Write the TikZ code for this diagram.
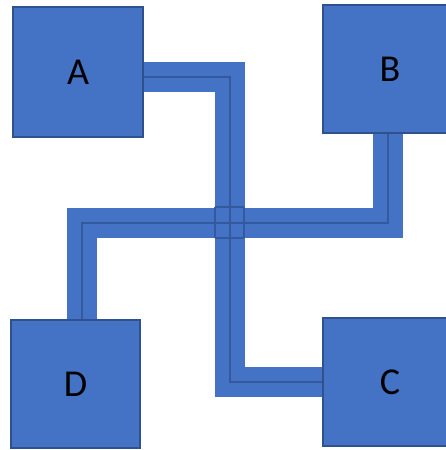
\documentclass[tikz,border=0pt]{standalone}
\usepackage{fontspec}
\setmainfont{Carlito}
\usetikzlibrary{backgrounds}
\definecolor{boxblue}{HTML}{4472C4}
\definecolor{edgeblue}{HTML}{2F528F}
\definecolor{lineblue}{HTML}{34599E}
\tikzset{
  box/.style={draw=edgeblue, line width=1.2pt, fill=boxblue, rectangle, inner sep=0pt,
    font=\fontsize{38}{40}\selectfont, text=black},
  band/.style={draw=boxblue, line width=30pt, line join=miter, line cap=butt},
  core/.style={draw=lineblue, line width=2.4pt, line join=miter},
  crossbox/.style={draw=lineblue, line width=1.8pt, rounded corners=1pt}
}
\begin{document}
\begin{tikzpicture}[x=1pt, y=-1pt]
\useasboundingbox (0,0) rectangle (445,450);
\node[box, minimum width=130pt, minimum height=130pt] (A) at (78,72) {A};
\node[box, minimum width=134pt, minimum height=128pt] (B) at (390,69) {B};
\node[box, minimum width=134pt, minimum height=128pt] (C) at (390,382) {C};
\node[box, minimum width=129pt, minimum height=128pt] (D) at (75.5,384) {D};
\coordinate (k1) at (230,77);
\coordinate (k2) at (82,223);
\coordinate (x) at (230,223);
\begin{scope}[on background layer]
  \draw[band] ([yshift=-5pt]A.east) -- (k1) |- (C.west);
  \draw[band] ([xshift=-2pt]B.south) |- (k2) -- ([xshift=6.5pt]D.north);
  \draw[core] ([yshift=-5pt]A.east) -- (k1) |- (C.west);
  \draw[core] ([xshift=-2pt]B.south) |- (k2) -- ([xshift=6.5pt]D.north);
  \draw[crossbox] ([shift={(-15pt,-15pt)}]x) rectangle ([shift={(14pt,16pt)}]x);
\end{scope}
\end{tikzpicture}
\end{document}
